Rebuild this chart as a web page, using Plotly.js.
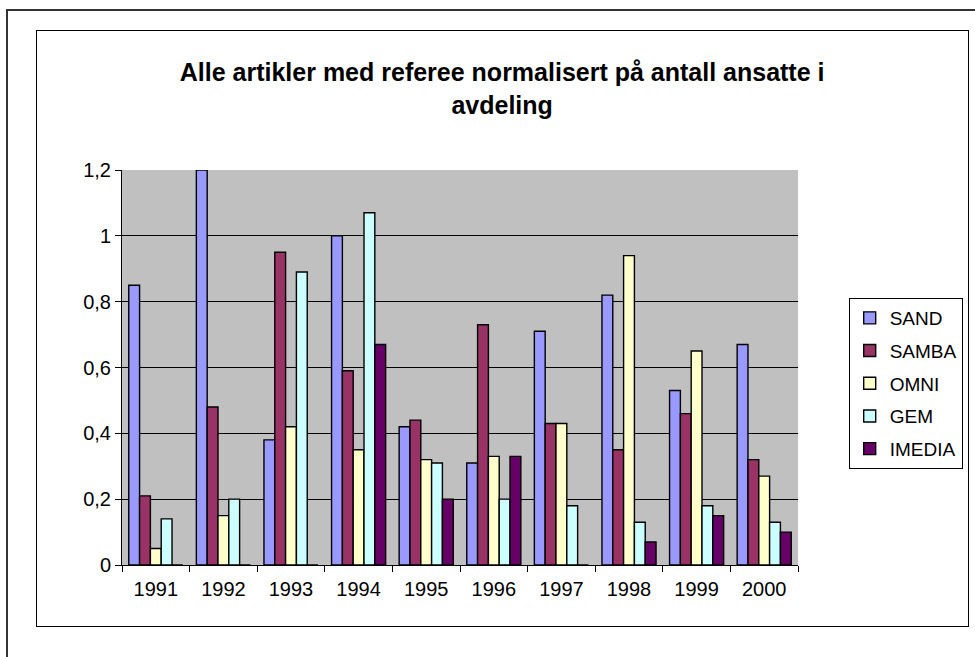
<!DOCTYPE html>
<html>
<head>
<meta charset="utf-8">
<script src="https://cdn.plot.ly/plotly-3.0.1.min.js"></script>
<style>
  html, body { margin: 0; padding: 0; background: #ffffff; overflow: hidden; }
  #wrap { position: relative; width: 975px; height: 657px; }
  #chart { position: absolute; left: 0; top: 0; width: 975px; height: 657px; }
  #outer { position: absolute; left: 6px; top: 9px; width: 980px; height: 660px;
           border-left: 2px solid #333; border-top: 2px solid #333; pointer-events: none; }
  #inner { position: absolute; left: 36px; top: 30px; width: 931px; height: 595px;
           border: 1px solid #000; pointer-events: none; }
</style>
</head>
<body>
<div id="wrap">
  <div id="chart"></div>
  <div id="outer"></div>
  <div id="inner"></div>
</div>
<script>
const years = ['1991','1992','1993','1994','1995','1996','1997','1998','1999','2000'];
const sand   = [0.85, 1.20, 0.38, 1.00, 0.42, 0.31, 0.71, 0.82, 0.53, 0.67];
const samba  = [0.21, 0.48, 0.95, 0.59, 0.44, 0.73, 0.43, 0.35, 0.46, 0.32];
const omni   = [0.05, 0.15, 0.42, 0.35, 0.32, 0.33, 0.43, 0.94, 0.65, 0.27];
const gem    = [0.14, 0.20, 0.89, 1.07, 0.31, 0.20, 0.18, 0.13, 0.18, 0.13];
const imedia = [0.00, 0.00, 0.00, 0.67, 0.20, 0.33, 0.00, 0.07, 0.15, 0.10];

const seriesNames = ['SAND', 'SAMBA', 'OMNI', 'GEM', 'IMEDIA'];
const seriesData = [sand, samba, omni, gem, imedia];
const seriesColors = ['#9999FF', '#993366', '#FFFFCC', '#CCFFFF', '#660066'];

const FONT = 'Arial, "Liberation Sans", Helvetica, sans-serif';

const traces = seriesNames.map((name, i) => ({
  type: 'bar',
  name: name,
  x: years,
  y: seriesData[i],
  legendgroup: name,
  marker: { color: seriesColors[i], line: { color: '#000000', width: 1.4 } },
  hoverinfo: 'x+y+name'
}));

const layout = {
  width: 975,
  height: 657,
  margin: { l: 122, r: 173, t: 170, b: 92 },
  paper_bgcolor: '#ffffff',
  plot_bgcolor: '#C0C0C0',
  separators: ', ',
  barmode: 'group',
  bargap: 0.2,
  bargroupgap: 0,
  font: { family: FONT, size: 20, color: '#000000' },
  title: {
    text: '<b>Alle artikler med referee normalisert på antall ansatte i<br>avdeling</b>',
    font: { family: FONT, size: 25, color: '#000000' },
    x: 0.515,
    xanchor: 'center',
    y: 0.876,
    yanchor: 'middle'
  },
  xaxis: {
    type: 'category',
    tickson: 'boundaries',
    ticks: 'outside',
    ticklen: 6,
    tickcolor: '#000000',
    ticklabelstandoff: 6,
    showline: true,
    linecolor: '#000000',
    linewidth: 1,
    showgrid: false,
    tickfont: { family: FONT, size: 20, color: '#000000' },
    fixedrange: true
  },
  yaxis: {
    range: [0, 1.2],
    dtick: 0.2,
    tick0: 0,
    ticks: 'outside',
    ticklen: 6,
    tickcolor: '#000000',
    showline: true,
    linecolor: '#000000',
    linewidth: 1,
    showgrid: true,
    gridcolor: '#000000',
    gridwidth: 1,
    zeroline: false,
    tickfont: { family: FONT, size: 20, color: '#000000' },
    fixedrange: true
  },
  showlegend: true,
  legend: {
    x: 1.075,
    xanchor: 'left',
    y: 0.676,
    yanchor: 'top',
    bgcolor: '#ffffff',
    bordercolor: '#000000',
    borderwidth: 1,
    traceorder: 'grouped',
    tracegroupgap: 5,
    itemwidth: 30,
    font: { family: FONT, size: 19, color: '#000000' }
  }
};

Plotly.newPlot('chart', traces, layout, { displayModeBar: false, staticPlot: true });
</script>
</body>
</html>
